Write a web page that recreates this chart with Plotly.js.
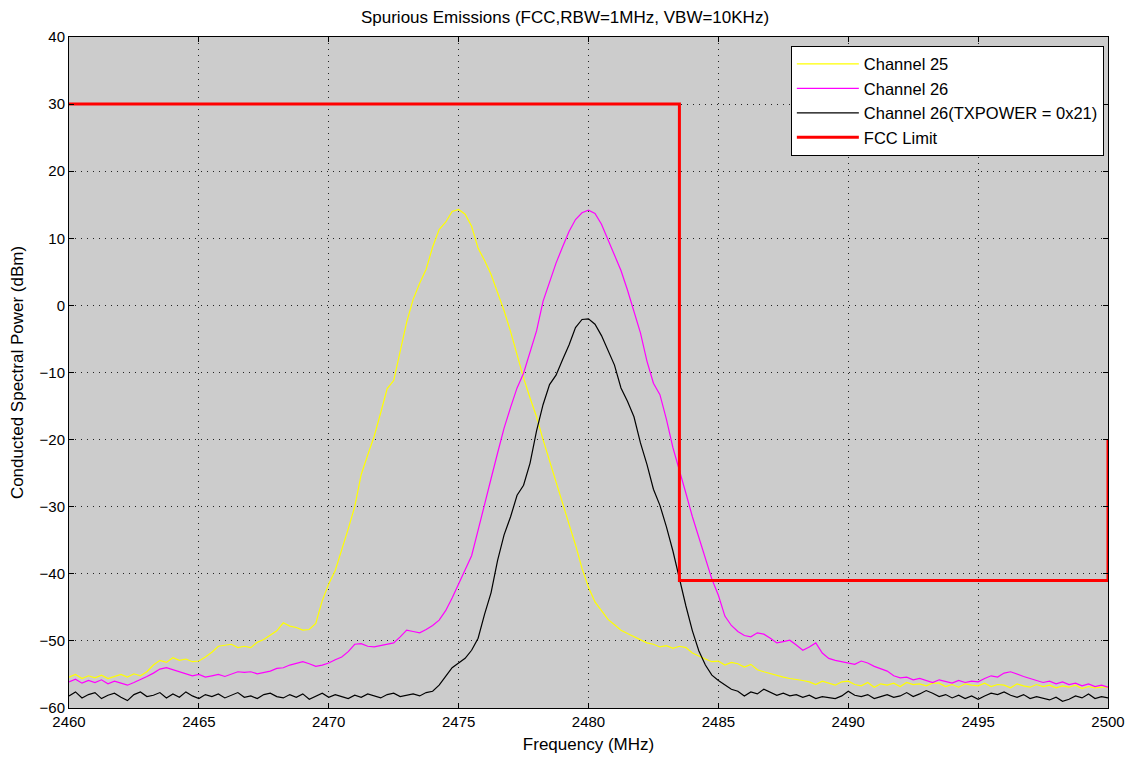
<!DOCTYPE html>
<html>
<head>
<meta charset="utf-8">
<script src="https://cdn.plot.ly/plotly-3.0.1.min.js"></script>
<style>html,body{margin:0;padding:0;background:#fff;}#chart{width:1130px;height:759px;}</style>
</head>
<body>
<div id="chart"></div>
<script>
// Frequency sampling grid (MHz)
const freqStart = 2460;
const freqStep = 0.25;

// Channel 25 (yellow), dBm
const channel25 = [
-55.4,-55.0,-55.6,-55.2,-55.5,-55.1,-55.6,-55.3,-55.0,-55.4,-54.9,-55.2,
-54.6,-53.6,-52.9,-53.2,-52.5,-52.9,-52.7,-53.1,-53.0,-52.4,-51.7,-50.8,
-50.6,-50.5,-51.0,-50.8,-51.0,-50.2,-49.8,-49.1,-48.5,-47.3,-47.8,-48.0,
-48.4,-48.3,-47.4,-44.0,-41.5,-39.5,-36.5,-33.3,-30.0,-25.2,-22.3,-19.5,
-16.0,-12.4,-11.2,-6.8,-2.5,0.9,3.3,5.4,8.7,11.3,12.4,14.0,
14.3,13.6,11.8,8.5,6.7,4.6,1.9,-0.8,-3.9,-7.4,-10.8,-13.8,
-16.6,-20.0,-23.2,-26.5,-29.5,-32.6,-35.7,-39.2,-42.0,-44.2,-45.5,-46.8,
-47.6,-48.4,-48.9,-49.4,-49.9,-50.3,-50.5,-50.9,-50.7,-51.1,-50.8,-51.0,
-51.8,-52.3,-52.7,-53.1,-53.0,-53.6,-53.2,-53.4,-53.9,-53.5,-54.3,-54.6,
-54.9,-55.2,-55.4,-55.6,-55.7,-55.9,-56.1,-56.5,-56.0,-56.3,-56.6,-56.1,
-56.0,-56.5,-56.7,-56.2,-56.9,-56.4,-56.6,-56.3,-56.8,-56.2,-56.5,-56.4,
-56.7,-56.3,-56.3,-56.8,-56.5,-56.9,-56.4,-56.6,-56.7,-56.3,-56.8,-56.5,
-56.6,-57.0,-56.4,-56.7,-56.9,-56.5,-56.8,-56.6,-57.0,-56.7,-56.9,-56.6,
-57.1,-56.8,-57.0,-56.9,-56.9
];

// Channel 26 (magenta), dBm
const channel26 = [
-56.1,-55.7,-56.3,-55.9,-56.2,-55.8,-56.4,-56.0,-56.3,-56.6,-56.2,-55.8,
-55.3,-54.8,-54.2,-54.0,-54.3,-54.6,-54.8,-55.2,-55.0,-55.4,-55.2,-55.0,
-55.3,-54.9,-54.6,-54.7,-54.6,-54.9,-54.7,-54.5,-54.1,-54.0,-53.6,-53.3,
-53.1,-53.4,-53.8,-53.6,-53.3,-52.8,-52.4,-51.6,-50.5,-50.4,-50.8,-50.9,
-50.7,-50.5,-50.3,-49.4,-48.4,-48.6,-48.8,-48.3,-47.7,-46.9,-45.5,-43.6,
-41.5,-39.5,-37.3,-33.5,-29.5,-25.8,-22.0,-18.3,-15.2,-12.3,-10.1,-7.0,
-3.8,0.6,3.6,6.3,8.7,11.0,12.8,13.8,14.2,13.7,12.1,9.8,
7.6,5.2,2.3,-0.9,-4.1,-8.3,-11.6,-13.3,-17.0,-21.2,-24.8,-28.0,
-31.5,-34.5,-37.5,-40.8,-43.2,-46.3,-47.7,-48.6,-49.2,-49.4,-48.8,-49.0,
-49.6,-50.3,-50.1,-49.9,-50.6,-51.4,-50.9,-50.3,-51.8,-52.6,-52.9,-53.1,
-53.3,-53.5,-53.0,-53.3,-53.8,-54.1,-54.5,-55.2,-55.5,-55.4,-55.8,-55.6,
-55.9,-56.2,-55.8,-56.1,-56.3,-55.9,-56.2,-56.0,-56.1,-55.6,-55.2,-55.4,
-54.8,-54.6,-55.0,-55.3,-55.6,-55.9,-56.2,-56.0,-56.4,-56.1,-56.5,-56.3,
-56.7,-56.4,-56.8,-56.6,-56.9
];

// Channel 26 (TXPOWER = 0x21) (black), dBm
const channel26Tx = [
-58.2,-57.6,-58.5,-58.0,-57.7,-58.6,-58.1,-57.8,-58.4,-58.9,-58.0,-57.6,
-58.3,-58.1,-57.7,-58.5,-57.9,-58.4,-57.6,-58.2,-58.6,-58.0,-58.3,-57.9,
-58.5,-58.1,-57.7,-58.4,-58.2,-58.6,-58.0,-57.8,-58.3,-58.5,-58.0,-58.4,
-57.9,-58.7,-58.2,-57.8,-58.4,-58.0,-58.3,-58.6,-58.1,-58.4,-57.9,-58.2,
-58.5,-58.0,-57.8,-58.3,-58.1,-57.9,-58.2,-57.7,-57.5,-56.6,-55.3,-54.0,
-53.3,-52.6,-51.4,-49.6,-46.0,-42.8,-38.0,-34.2,-31.5,-28.3,-26.8,-23.5,
-18.7,-14.8,-11.8,-10.4,-8.1,-5.9,-3.3,-2.1,-2.0,-2.8,-4.5,-6.6,
-8.9,-12.3,-14.3,-16.6,-20.5,-23.7,-27.4,-29.8,-33.0,-36.6,-40.8,-44.8,
-48.5,-51.5,-53.6,-55.1,-55.9,-56.6,-57.2,-57.5,-58.2,-57.6,-57.9,-57.2,
-57.6,-58.1,-57.8,-58.2,-58.0,-58.4,-58.1,-58.6,-58.3,-58.5,-58.6,-58.2,
-57.5,-58.1,-58.3,-58.0,-58.6,-58.3,-58.0,-58.4,-58.2,-57.7,-58.3,-57.9,
-57.4,-57.8,-58.3,-58.0,-58.5,-58.1,-58.6,-58.2,-58.7,-58.2,-57.8,-58.0,
-57.6,-58.1,-58.4,-58.0,-58.6,-58.3,-58.5,-58.8,-58.4,-59.0,-58.7,-58.2,
-58.5,-57.9,-58.6,-58.3,-58.5
];

// FCC limit mask
const fccLimitFreq = [2460, 2483.5, 2483.5, 2500, 2500];
const fccLimitPower = [30, 30, -41, -41, -20];

// Axis ticks
const xTickVals = [2460, 2465, 2470, 2475, 2480, 2485, 2490, 2495, 2500];
const yTickVals = [40, 30, 20, 10, 0, -10, -20, -30, -40, -50, -60];

function freqAxis(n) {
  const out = [];
  for (let i = 0; i < n; i++) out.push(freqStart + i * freqStep);
  return out;
}

const font = 'Liberation Sans, Arial, sans-serif';

const traces = [
  {x: freqAxis(channel25.length), y: channel25, type: 'scatter', mode: 'lines',
   name: 'Channel 25', line: {color: '#ffff00', width: 1.2}},
  {x: freqAxis(channel26.length), y: channel26, type: 'scatter', mode: 'lines',
   name: 'Channel 26', line: {color: '#ff00ff', width: 1.2}},
  {x: freqAxis(channel26Tx.length), y: channel26Tx, type: 'scatter', mode: 'lines',
   name: 'Channel 26(TXPOWER = 0x21)', line: {color: '#000000', width: 1.2}},
  {x: fccLimitFreq, y: fccLimitPower, type: 'scatter', mode: 'lines',
   name: 'FCC Limit', line: {color: '#ff0000', width: 3}}
];

const axisCommon = {
  showline: true, linecolor: '#000', linewidth: 1, mirror: 'ticks',
  ticks: 'inside', ticklen: 5, tickcolor: '#000',
  showgrid: true, gridcolor: '#222', griddash: '1px,5px', gridwidth: 1,
  zeroline: false, tickfont: {family: font, size: 15, color: '#000'}
};

const layout = {
  width: 1130, height: 759,
  margin: {l: 69, r: 22, t: 37, b: 51},
  paper_bgcolor: '#ffffff', plot_bgcolor: '#cccccc',
  title: {text: 'Spurious Emissions (FCC,RBW=1MHz, VBW=10KHz)', x: 0.5, xanchor: 'center',
          y: 1 - 17/759, yanchor: 'middle', font: {family: font, size: 17, color: '#000'}},
  xaxis: Object.assign({}, axisCommon, {range: [2460, 2500], tickvals: xTickVals,
          title: {text: 'Frequency (MHz)', standoff: 9, font: {family: font, size: 17, color: '#000'}}}),
  yaxis: Object.assign({}, axisCommon, {range: [-60, 40], tickvals: yTickVals,
          title: {text: 'Conducted Spectral Power (dBm)', standoff: 11, font: {family: font, size: 17, color: '#000'}}}),
  showlegend: true,
  legend: {x: 0.996, xanchor: 'right', y: 0.987, yanchor: 'top',
           bgcolor: '#ffffff', bordercolor: '#000', borderwidth: 1,
           font: {family: font, size: 16.5, color: '#000'}, itemwidth: 62, tracegroupgap: 0}
};

Plotly.newPlot('chart', traces, layout, {displayModeBar: false, staticPlot: true});
</script>
</body>
</html>
